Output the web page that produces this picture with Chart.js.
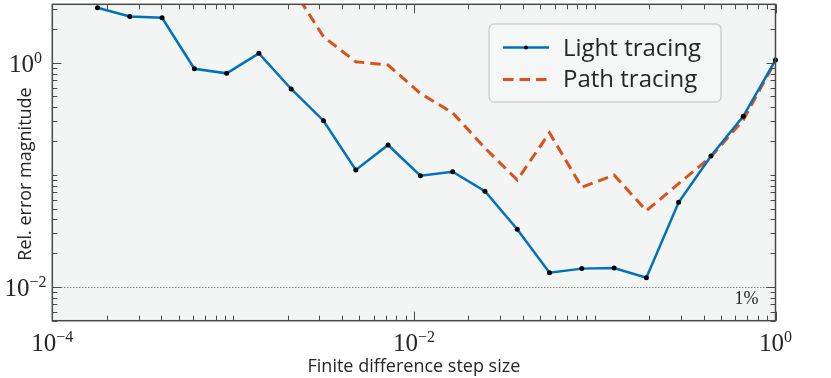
<!DOCTYPE html>
<html>
<head>
<meta charset="utf-8">
<script src="https://cdn.jsdelivr.net/npm/chart.js@4.4.1/dist/chart.umd.min.js"></script>
<style>
  html, body { margin: 0; padding: 0; background: #ffffff; }
  #c { display: block; }
</style>
</head>
<body>
<canvas id="c" width="831" height="378"></canvas>
<script>
// ---- data ----
const stepSizes = [1.778e-4, 2.683e-4, 4.047e-4, 6.105e-4, 9.21e-4, 1.389e-3, 2.096e-3, 3.162e-3,
  4.771e-3, 7.197e-3, 1.086e-2, 1.638e-2, 2.471e-2, 3.728e-2, 5.623e-2, 8.483e-2,
  0.128, 0.1931, 0.2913, 0.4394, 0.6629, 1.0];
const lightTracing = [3.09, 2.59, 2.52, 0.884, 0.804, 1.213, 0.583, 0.304, 0.1105, 0.1845, 0.0983,
  0.1067, 0.0714, 0.0327, 0.01341, 0.01457, 0.01477, 0.0121, 0.0569, 0.1473, 0.333, 1.057];
const pathTracing = [null, null, null, null, null, null, 4.83, 1.705, 1.02, 0.954, 0.533,
  0.3575, 0.1735, 0.090, 0.2376, 0.0774, 0.0997, 0.0479, 0.0834, 0.1451, 0.3083, 1.042];
const seriesNames = ['Light tracing', 'Path tracing'];
const xMajorExps = [-4, -2, 0];
const yMajorExps = [0, -2];
const xTitle = 'Finite difference step size';
const yTitle = 'Rel. error magnitude';
const refLineValue = 0.01;
const refLineLabel = '1%';

const BLUE = '#0072BD';
const ORANGE = '#D95319';
const PLOT_BG = '#f3f4f4';
const AXIS = '#4a4a4a';
const TEXT = '#262626';

function toPoints(ys) { return stepSizes.map((x, i) => ({ x: x, y: ys[i] })); }

function drawPow(ctx, exp, x, baseline, align) {
  const base = '10';
  const sup = exp < 0 ? '\u2212' + Math.abs(exp) : String(exp);
  ctx.font = '25px "Liberation Serif"';
  const wb = ctx.measureText(base).width;
  ctx.font = '16px "Liberation Serif"';
  const ws = ctx.measureText(sup).width;
  const w = wb + ws;
  let left = x;
  if (align === 'center') left = x - w / 2;
  else if (align === 'right') left = x - w;
  ctx.fillStyle = TEXT;
  ctx.textAlign = 'left';
  ctx.textBaseline = 'alphabetic';
  ctx.font = '25px "Liberation Serif"';
  ctx.fillText(base, left, baseline);
  ctx.font = '16px "Liberation Serif"';
  ctx.fillText(sup, left + wb, baseline - 9);
}

const decor = {
  id: 'decor',
  beforeDraw(chart) {
    const { ctx, chartArea: a } = chart;
    ctx.save();
    ctx.fillStyle = '#ffffff';
    ctx.fillRect(0, 0, chart.width, chart.height);
    ctx.fillStyle = PLOT_BG;
    ctx.fillRect(a.left, a.top, a.right - a.left, a.bottom - a.top);
    ctx.restore();
  },
  beforeDatasetsDraw(chart) {
    const { ctx, chartArea: a, scales } = chart;
    const y = Math.round(scales.y.getPixelForValue(refLineValue)) + 0.5;
    ctx.save();
    ctx.strokeStyle = '#555';
    ctx.lineWidth = 1;
    ctx.setLineDash([1, 2]);
    ctx.beginPath();
    ctx.moveTo(a.left, y);
    ctx.lineTo(a.right, y);
    ctx.stroke();
    ctx.setLineDash([]);
    ctx.fillStyle = TEXT;
    ctx.font = '18px "Liberation Serif"';
    ctx.textAlign = 'right';
    ctx.textBaseline = 'alphabetic';
    ctx.fillText(refLineLabel, a.right - 17, y + 16);
    ctx.restore();
  },
  afterDraw(chart) {
    const { ctx, chartArea: a, scales } = chart;
    const xs = scales.x, ys = scales.y;
    ctx.save();
    // ticks
    ctx.strokeStyle = AXIS;
    ctx.lineWidth = 1;
    ctx.beginPath();
    for (let e = -4; e <= 0; e++) {
      for (let m = 1; m <= 9; m++) {
        const v = m * Math.pow(10, e);
        if (v < xs.min * 0.999 || v > xs.max * 1.001) continue;
        const px = Math.round(xs.getPixelForValue(v)) + 0.5;
        const len = (m === 1 && xMajorExps.includes(e)) ? 9 : 5;
        ctx.moveTo(px, a.bottom); ctx.lineTo(px, a.bottom - len);
        ctx.moveTo(px, a.top); ctx.lineTo(px, a.top + len);
      }
    }
    for (let e = -3; e <= 0; e++) {
      for (let m = 1; m <= 9; m++) {
        const v = m * Math.pow(10, e);
        if (v < ys.min * 0.999 || v > ys.max * 1.001) continue;
        const py = Math.round(ys.getPixelForValue(v)) + 0.5;
        const len = (m === 1 && yMajorExps.includes(e)) ? 9 : 5;
        ctx.moveTo(a.left, py); ctx.lineTo(a.left + len, py);
        ctx.moveTo(a.right, py); ctx.lineTo(a.right - len, py);
      }
    }
    ctx.stroke();
    // frame
    ctx.lineWidth = 1.5;
    ctx.strokeStyle = AXIS;
    ctx.strokeRect(a.left, a.top, a.right - a.left, a.bottom - a.top);
    // tick labels
    xMajorExps.forEach(e => drawPow(ctx, e, xs.getPixelForValue(Math.pow(10, e)), a.bottom + 30, 'center'));
    yMajorExps.forEach(e => drawPow(ctx, e, 25.5, ys.getPixelForValue(Math.pow(10, e)) + 9, 'center'));
    // axis titles
    ctx.fillStyle = TEXT;
    ctx.font = '18px "Open Sans"';
    ctx.textAlign = 'center';
    ctx.textBaseline = 'alphabetic';
    ctx.fillText(xTitle, (a.left + a.right) / 2, 372);
    ctx.save();
    ctx.translate(30.5, 174);
    ctx.rotate(-Math.PI / 2);
    ctx.fillText(yTitle, 0, 0);
    ctx.restore();
    // legend
    const lx = 489, ly = 24, lw = 232, lh = 78, r = 5;
    ctx.beginPath();
    ctx.roundRect(lx, ly, lw, lh, r);
    ctx.fillStyle = '#f5f6f6';
    ctx.fill();
    ctx.strokeStyle = '#d0d0d0';
    ctx.lineWidth = 1.5;
    ctx.stroke();
    ctx.lineWidth = 2.5;
    ctx.strokeStyle = BLUE;
    ctx.beginPath(); ctx.moveTo(503, 47.5); ctx.lineTo(549, 47.5); ctx.stroke();
    ctx.fillStyle = '#000';
    ctx.beginPath(); ctx.arc(526, 47.5, 2, 0, Math.PI * 2); ctx.fill();
    ctx.strokeStyle = ORANGE;
    ctx.lineWidth = 3;
    ctx.setLineDash([10.5, 6]);
    ctx.beginPath(); ctx.moveTo(503, 79.5); ctx.lineTo(549, 79.5); ctx.stroke();
    ctx.setLineDash([]);
    ctx.fillStyle = TEXT;
    ctx.font = '24px "Open Sans"';
    ctx.textAlign = 'left';
    ctx.fillText(seriesNames[0], 563, 55.5);
    ctx.fillText(seriesNames[1], 563, 87);
    ctx.restore();
  }
};

new Chart(document.getElementById('c'), {
  type: 'line',
  data: {
    datasets: [
      {
        label: seriesNames[0],
        data: toPoints(lightTracing),
        borderColor: BLUE,
        borderWidth: 2.5,
        pointRadius: 2.5,
        pointBackgroundColor: '#000',
        pointBorderWidth: 0,
        tension: 0,
        clip: false,
        order: 0
      },
      {
        label: seriesNames[1],
        data: toPoints(pathTracing),
        borderColor: ORANGE,
        borderWidth: 3,
        borderDash: [10.5, 6],
        pointRadius: 0,
        tension: 0,
        spanGaps: false,
        clip: 0,
        order: 1
      }
    ]
  },
  options: {
    responsive: false,
    animation: false,
    layout: { padding: { left: 52.3, top: 4.3, right: 55.5, bottom: 57.3 } },
    scales: {
      x: { type: 'logarithmic', min: 1e-4, max: 1, display: false },
      y: { type: 'logarithmic', min: 0.005, max: 3.32, display: false }
    },
    plugins: { legend: { display: false }, tooltip: { enabled: false } },
    events: []
  },
  plugins: [decor]
});
</script>
</body>
</html>
